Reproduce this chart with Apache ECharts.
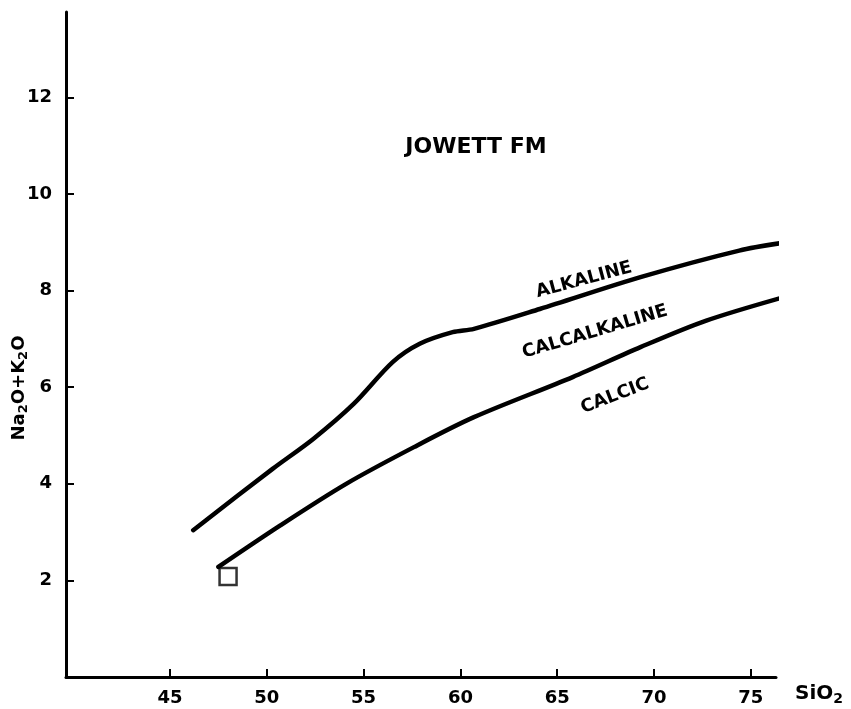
<!DOCTYPE html>
<html>
<head>
<meta charset="utf-8">
<script src="https://cdn.jsdelivr.net/npm/echarts@6/dist/echarts.min.js"></script>
<style>
html,body{margin:0;padding:0;background:#fff;}
#main{width:851px;height:709px;}
</style>
</head>
<body>
<div id="main"></div>
<script>
// SiO2 tick labels and Na2O+K2O tick labels
const xTicks = [45, 50, 55, 60, 65, 70, 75];
const yTicks = [2, 4, 6, 8, 10, 12];

// Alkaline / calc-alkaline boundary (upper curve)
const upperSiO2 = [46.2, 50.3, 52.4, 54.5, 56.5, 57.9, 59.6, 60.7, 64.1, 69.3, 74.4, 76.8];
const upperAlk  = [3.04, 4.31, 4.93, 5.66, 6.52, 6.90, 7.14, 7.21, 7.62, 8.28, 8.83, 9.00];

// Calc-alkaline / calcic boundary (lower curve)
const lowerSiO2 = [47.5, 50.7, 54.1, 57.6, 60.7, 65.8, 69.3, 72.7, 77.0];
const lowerAlk  = [2.28, 3.14, 4.00, 4.76, 5.38, 6.21, 6.83, 7.38, 7.90];

// Jowett Fm sample
const sampleSiO2 = [48.0];
const sampleAlk  = [2.08];

const FONT = 'DejaVu Sans';
const zip = (a, b) => a.map((v, i) => [v, b[i]]);
const deg = d => d * Math.PI / 180;

const chart = echarts.init(document.getElementById('main'));
chart.setOption({
  backgroundColor: '#fff',
  animation: false,
  grid: {left: 66, top: 12, width: 710, height: 665, outerBoundsMode: 'none', containLabel: false},
  xAxis: {
    type: 'value', min: 39.63, max: 76.3,
    axisLine: {show: true, lineStyle: {color: '#000', width: 3}},
    axisTick: {show: true, inside: true, length: 8, customValues: xTicks, lineStyle: {color: '#000', width: 2}},
    axisLabel: {show: true, customValues: xTicks, margin: 12, color: '#000', fontFamily: FONT, fontWeight: 'bold', fontSize: 18},
    splitLine: {show: false}
  },
  yAxis: {
    type: 'value', min: 0, max: 13.77,
    axisLine: {show: true, lineStyle: {color: '#000', width: 3}},
    axisTick: {show: true, inside: true, length: 8, customValues: yTicks, lineStyle: {color: '#000', width: 2}},
    axisLabel: {show: true, customValues: yTicks, margin: 14, color: '#000', fontFamily: FONT, fontWeight: 'bold', fontSize: 18},
    splitLine: {show: false}
  },
  series: [
    {type: 'line', data: zip(upperSiO2, upperAlk), smooth: 0.3, showSymbol: false,
     lineStyle: {color: '#000', width: 4.5, cap: 'round'}},
    {type: 'line', data: zip(lowerSiO2, lowerAlk), smooth: 0.3, showSymbol: false,
     lineStyle: {color: '#000', width: 4.5, cap: 'round'}},
    {type: 'scatter', data: zip(sampleSiO2, sampleAlk), symbol: 'rect', symbolSize: 17,
     itemStyle: {color: '#fff', borderColor: '#000', borderWidth: 2.5}}
  ],
  graphic: [
    {type: 'text', x: 476, y: 147, style: {text: 'JOWETT FM', font: 'bold 22px "DejaVu Sans"', fill: '#000', align: 'center', verticalAlign: 'middle'}},
    {type: 'text', x: 584, y: 280, rotation: deg(15), style: {text: 'ALKALINE', font: 'bold 18px "DejaVu Sans"', fill: '#000', align: 'center', verticalAlign: 'middle'}},
    {type: 'text', x: 595, y: 332, rotation: deg(16.5), style: {text: 'CALCALKALINE', font: 'bold 18px "DejaVu Sans"', fill: '#000', align: 'center', verticalAlign: 'middle'}},
    {type: 'text', x: 615, y: 396, rotation: deg(21), style: {text: 'CALCIC', font: 'bold 18px "DejaVu Sans"', fill: '#000', align: 'center', verticalAlign: 'middle'}},
    {type: 'text', x: 19, y: 388, rotation: deg(90), style: {text: 'Na{s|2}O+K{s|2}O', font: 'bold 18px "DejaVu Sans"', fill: '#000', align: 'center', verticalAlign: 'middle',
      rich: {s: {font: 'bold 13px "DejaVu Sans"', fill: '#000', padding: [9, 0, 0, 0]}}}},
    {type: 'text', x: 795, y: 694, style: {text: 'SiO{s|2}', font: 'bold 20px "DejaVu Sans"', fill: '#000', align: 'left', verticalAlign: 'middle',
      rich: {s: {font: 'bold 14px "DejaVu Sans"', fill: '#000', padding: [10, 0, 0, 0]}}}}
  ]
});
</script>
</body>
</html>
